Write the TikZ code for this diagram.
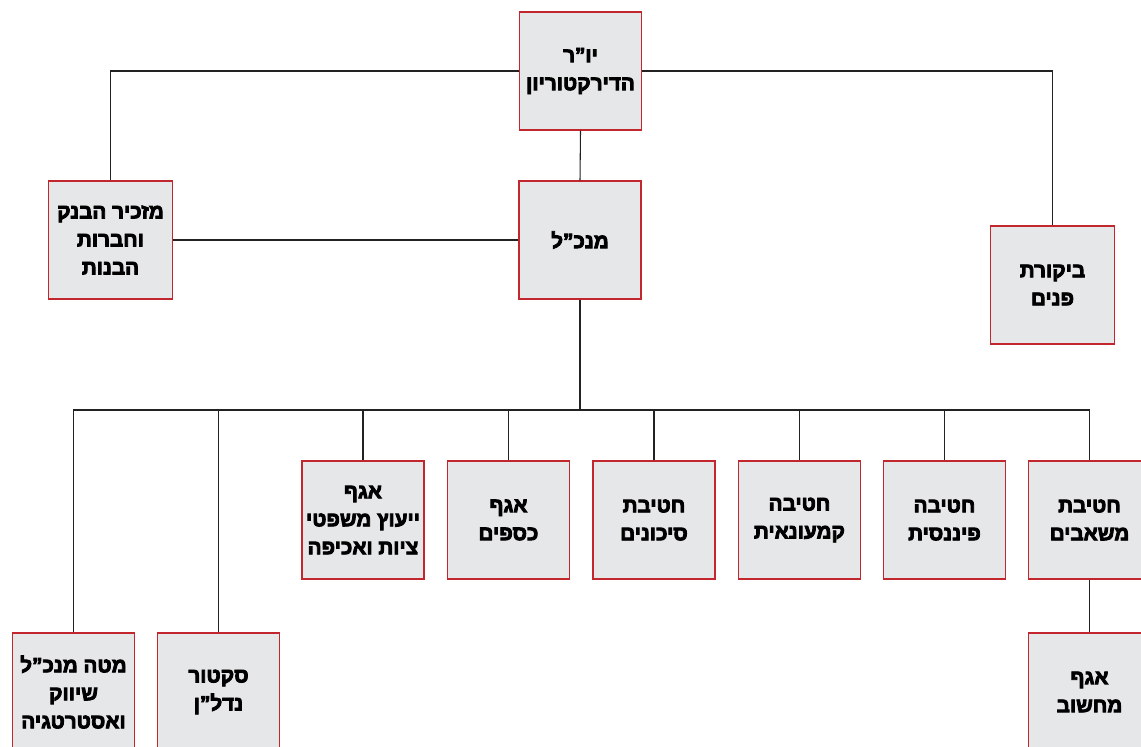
\documentclass[tikz,border=0pt]{standalone}
\usepackage{fontspec}
\newfontfamily\hebfont[Script=Hebrew,FakeBold=4]{Liberation Sans Bold}
\TeXXeTstate=1
\newcommand{\hebline}[1]{\beginR #1\endR}
\definecolor{boxfill}{HTML}{E6E7E9}
\definecolor{boxedge}{HTML}{C1272D}
\definecolor{linecol}{HTML}{222222}
\begin{document}
\begin{tikzpicture}[x=0.75pt,y=-0.75pt,
  orgbox/.style={draw=boxedge,fill=boxfill,line width=0.8pt,minimum width=91.5pt,minimum height=88.5pt,
    inner sep=0pt,align=center,font=\hebfont\fontsize{15.5}{21}\selectfont,text=black},
  wide/.style={minimum width=93.5pt},
  conn/.style={draw=linecol,line width=0.8pt}]
\useasboundingbox (0,0) rectangle (1141,746);
\fill[white] (0,0) rectangle (1141,746);
% top level
\node[orgbox] (chair) at (580.5,71) {\hebline{יו”ר}\\\hebline{הדירקטוריון}};
\node[orgbox] (mankal) at (580,240) {\hebline{מנכ”ל}};
\node[orgbox,wide] (sec) at (110.5,240) {\hebline{מזכיר הבנק}\\\hebline{וחברות}\\\hebline{הבנות}};
\node[orgbox,wide] (bik) at (1052.5,285) {\hebline{ביקורת}\\\hebline{פנים}};
% second row
\node[orgbox] (yeutz) at (363,520) {\hebline{אגף}\\\hebline{ייעוץ משפטי}\\\hebline{ציות ואכיפה}};
\node[orgbox] (ksafim) at (508.5,520) {\hebline{אגף}\\\hebline{כספים}};
\node[orgbox] (sikunim) at (654,520) {\hebline{חטיבת}\\\hebline{סיכונים}};
\node[orgbox] (kmaut) at (799.5,520) {\hebline{חטיבה}\\\hebline{קמעונאית}};
\node[orgbox] (fin) at (944.5,520) {\hebline{חטיבה}\\\hebline{פיננסית}};
\node[orgbox] (mash) at (1089.5,520) {\hebline{חטיבת}\\\hebline{משאבים}};
% third row
\node[orgbox] (mate) at (73.5,692) {\hebline{מטה מנכ”ל}\\\hebline{שיווק}\\\hebline{ואסטרטגיה}};
\node[orgbox] (sektor) at (218.5,692) {\hebline{סקטור}\\\hebline{נדל”ן}};
\node[orgbox] (mach) at (1089.5,692) {\hebline{אגף}\\\hebline{מחשוב}};
% connectors
\coordinate (bus) at (580,410);
\draw[conn] (chair.west) -| (sec.north);
\draw[conn] (chair.east) -| (bik.north);
\draw[conn] (chair.south) -- (mankal.north);
\draw[conn] (mankal.west) -- (sec.east);
\draw[conn] (mankal.south) -- (bus);
\foreach \n in {mate,sektor,yeutz,ksafim,sikunim,kmaut,fin,mash}
  \draw[conn] (bus) -| (\n.north);
\draw[conn] (mash.south) -- (mach.north);
\end{tikzpicture}
\end{document}
